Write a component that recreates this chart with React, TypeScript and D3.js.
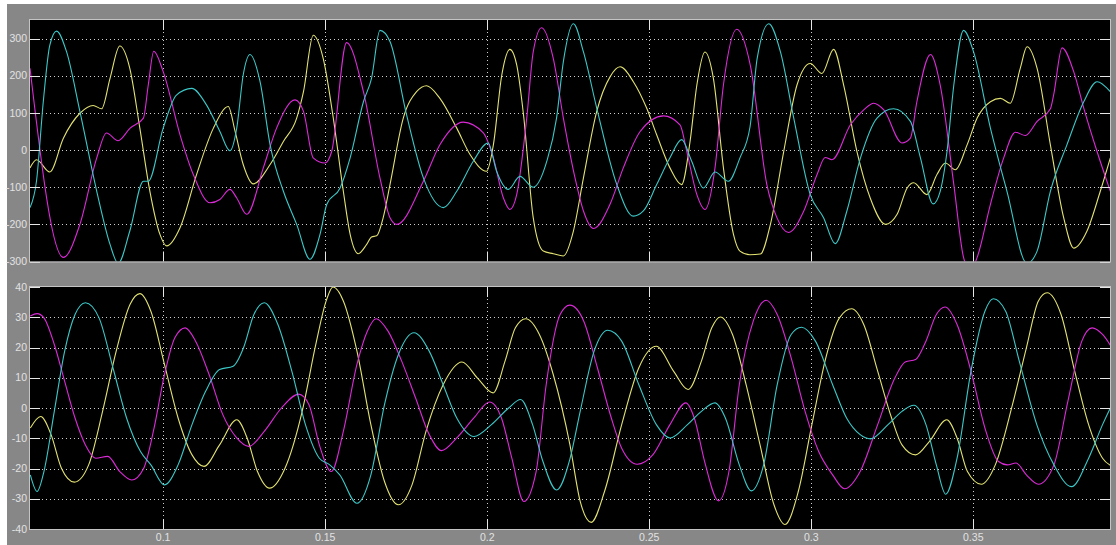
import React from "react";
import * as d3 from "d3";

type Pt = [number, number];

// ---- Top panel series (time s, value) ----
const topYellow: Pt[] = [
  [0.0589, -48], [0.0609, -26], [0.065, -59], [0.0692, 32], [0.0743, 99], [0.0784, 120], [0.081, 111],
  [0.0836, 193], [0.0866, 280], [0.0897, 220], [0.0928, 59], [0.0959, -111], [0.099, -227], [0.1011, -258],
  [0.1052, -209], [0.1103, -66], [0.1155, 59], [0.1201, 117], [0.1222, 50], [0.1247, -39], [0.1278, -91],
  [0.133, -39], [0.1371, 23], [0.1412, 86], [0.1433, 157], [0.1463, 309], [0.1494, 246], [0.1525, 86],
  [0.1556, -111], [0.1577, -227], [0.1602, -279], [0.1628, -254], [0.1643, -234], [0.1659, -231],
  [0.1679, -182], [0.17, -93], [0.1741, 86], [0.1782, 157], [0.1813, 173], [0.1854, 139], [0.1906, 59],
  [0.1947, -12], [0.1998, -57], [0.2019, 14], [0.2045, 202], [0.207, 271], [0.2091, 229], [0.2112, 95],
  [0.2142, -182], [0.2173, -272], [0.2204, -279], [0.2235, -285], [0.2266, -218], [0.2297, -75],
  [0.2338, 104], [0.2379, 197], [0.241, 224], [0.2451, 184], [0.2492, 113], [0.2523, 41], [0.2564, -48],
  [0.26, -93], [0.2626, 23], [0.2647, 175], [0.2672, 264], [0.2698, 193], [0.2729, -48], [0.276, -227],
  [0.278, -272], [0.2811, -282], [0.2843, -280], [0.2874, -200], [0.2915, -4], [0.2956, 175], [0.2997, 233],
  [0.3033, 206], [0.3069, 271], [0.31, 175], [0.3141, -4], [0.3182, -129], [0.3229, -200], [0.3265, -173],
  [0.3296, -102], [0.3316, -88], [0.3357, -120], [0.3388, -66], [0.3414, -35], [0.3445, -53], [0.3481, 14],
  [0.3512, 86], [0.3553, 130], [0.3584, 139], [0.3614, 126], [0.3645, 220], [0.3666, 278], [0.3697, 220],
  [0.3738, 14], [0.3779, -182], [0.381, -264], [0.3851, -218], [0.3892, -111], [0.3923, -21],
];

const topMagenta: Pt[] = [
  [0.0589, 220], [0.0692, -289], [0.0743, -200], [0.0795, -21], [0.0825, 46], [0.0861, 25], [0.0898, 59],
  [0.0939, 86], [0.0954, 175], [0.0971, 266], [0.1, 211], [0.1052, 41], [0.1093, -66], [0.1145, -142],
  [0.1175, -133], [0.1206, -106], [0.1227, -129], [0.1258, -173], [0.1309, -48], [0.135, 59], [0.1407, 135],
  [0.1433, 104], [0.1463, -21], [0.1499, -35], [0.152, -4], [0.1566, 289], [0.1618, 157], [0.1669, -75],
  [0.17, -182], [0.1721, -200], [0.1803, -84], [0.1854, 14], [0.1926, 75], [0.1988, 46], [0.2019, -21],
  [0.205, -129], [0.207, -160], [0.2091, -120], [0.2122, 86], [0.2142, 264], [0.2168, 329], [0.2204, 246],
  [0.2235, 86], [0.2271, -75], [0.2297, -164], [0.2328, -211], [0.2379, -146], [0.242, -48], [0.2472, 50],
  [0.2544, 92], [0.2595, 68], [0.2616, -4], [0.2647, -120], [0.2672, -160], [0.2703, -48], [0.2729, 175],
  [0.277, 325], [0.2812, 228], [0.2863, -93], [0.2894, -182], [0.293, -222], [0.2977, -164], [0.3018, -66],
  [0.3043, -20], [0.3064, -26], [0.3121, 68], [0.3162, 108], [0.3193, 126], [0.3224, 108], [0.328, 19],
  [0.3306, 32], [0.3326, 130], [0.3368, 257], [0.3398, 175], [0.344, -93], [0.347, -289], [0.3491, -325],
  [0.3512, -289], [0.3553, -146], [0.3594, -21], [0.363, 48], [0.3661, 39], [0.3697, 77], [0.3738, 111],
  [0.3748, 148], [0.3774, 275], [0.381, 211], [0.3841, 113], [0.3882, -4], [0.3923, -111],
];

const topCyan: Pt[] = [
  [0.0589, -155], [0.0609, -84], [0.063, 130], [0.065, 282], [0.0671, 320], [0.0702, 264], [0.0743, 104],
  [0.0795, -111], [0.0836, -254], [0.0861, -305], [0.0897, -218], [0.0939, -84], [0.0954, -84], [0.1, 59],
  [0.1041, 148], [0.1088, 166], [0.1134, 121], [0.1175, 50], [0.1206, -2], [0.1227, 59], [0.1247, 202],
  [0.1268, 257], [0.1299, 184], [0.133, 14], [0.1371, -111], [0.1412, -200], [0.1453, -294], [0.1484, -227],
  [0.1505, -146], [0.1546, -102], [0.1577, -21], [0.1618, 130], [0.1643, 193], [0.1669, 322], [0.17, 292],
  [0.1751, 95], [0.1803, -75], [0.1865, -155], [0.1906, -111], [0.1957, -30], [0.2003, 19], [0.2029, -57],
  [0.2065, -106], [0.2101, -71], [0.2142, -100], [0.2184, -30], [0.2214, 86], [0.2235, 238], [0.2266, 340],
  [0.2297, 264], [0.2338, 113], [0.24, -93], [0.2451, -178], [0.2482, -164], [0.2523, -93], [0.2564, -21],
  [0.26, 28], [0.2631, -30], [0.2667, -102], [0.2703, -59], [0.2744, -84], [0.278, -21], [0.2811, 62],
  [0.2833, 246], [0.2869, 340], [0.2905, 264], [0.2946, 86], [0.2997, -120], [0.3038, -182], [0.3074, -252],
  [0.311, -164], [0.3152, -21], [0.3203, 86], [0.3254, 111], [0.3306, 77], [0.3337, -21], [0.3376, -145],
  [0.3398, -111], [0.3419, -4], [0.344, 175], [0.347, 322], [0.3501, 264], [0.3553, 59], [0.3604, -111],
  [0.3666, -305], [0.3697, -272], [0.3738, -111], [0.3789, 14], [0.3841, 130], [0.3882, 184], [0.3923, 157],
];

// ---- Bottom panel series ----
const bottomYellow: Pt[] = [
  [0.059, -6.6], [0.0622, -2.8], [0.0654, -8.8], [0.0686, -19.9], [0.0726, -24.5], [0.077, -18.8],
  [0.0813, -1.1], [0.0855, 18.8], [0.0898, 34.3], [0.0928, 37.8], [0.0962, 32.0], [0.1004, 14.4],
  [0.1046, -3.3], [0.1089, -15.5], [0.1126, -19.3], [0.1174, -12.2], [0.1227, -3.9], [0.1259, -9.9],
  [0.1291, -21.0], [0.1328, -26.5], [0.1376, -19.9], [0.1429, -1.1], [0.1471, 21.0], [0.1503, 35.4],
  [0.1524, 40], [0.1556, 35.4], [0.1598, 18.8], [0.1641, -5.5], [0.1683, -24.3], [0.1726, -32.0],
  [0.1768, -25.4], [0.1811, -7.7], [0.1864, 7.7], [0.1922, 15.2], [0.197, 9.9], [0.2018, 5.0],
  [0.2055, 15.5], [0.2087, 26.5], [0.2119, 29.5], [0.2161, 24.3], [0.2204, 11.0], [0.2255, -12],
  [0.2287, -30.9], [0.2321, -37.8], [0.2362, -27.6], [0.2415, -5.5], [0.2468, 13.3], [0.2522, 20.4],
  [0.2575, 12.2], [0.262, 6.1], [0.2661, 15.5], [0.2693, 26.5], [0.2719, 30.1], [0.2757, 24.3],
  [0.2799, 7.7], [0.2842, -12.2], [0.2885, -32.0], [0.2919, -38.5], [0.296, -27.6], [0.3002, -5.5],
  [0.3045, 16.6], [0.3087, 29.8], [0.3125, 32.8], [0.3162, 27.6], [0.3205, 12.2], [0.3248, -3.3],
  [0.328, -12.2], [0.3322, -15.5], [0.3365, -11.0], [0.3418, -3.9], [0.345, -9.9], [0.3482, -21.0],
  [0.3525, -25.2], [0.3568, -18.8], [0.3621, 1.1], [0.3664, 19.9], [0.3701, 35.4], [0.3728, 38.1],
  [0.3771, 30.9], [0.3813, 12.2], [0.3856, -5.5], [0.3899, -16.6], [0.3928, -19.3],
];

const bottomMagenta: Pt[] = [
  [0.059, 30.4], [0.0611, 31.2], [0.0632, 29.8], [0.0664, 21.0], [0.0696, 8.8], [0.0728, -3.3],
  [0.076, -12.2], [0.0792, -16.6], [0.0829, -16.0], [0.0866, -21.0], [0.0903, -23.8], [0.094, -19.9],
  [0.0972, -6.6], [0.1004, 11.0], [0.1036, 23.2], [0.1068, 26.5], [0.11, 22.1], [0.1142, 11.0],
  [0.1184, -2.2], [0.1227, -9.9], [0.1264, -12.7], [0.1312, -7.7], [0.1365, 0], [0.1418, 4.6],
  [0.145, 1.1], [0.1482, -12.2], [0.1519, -21.0], [0.1556, -7.7], [0.1598, 14.4], [0.163, 25.4],
  [0.1657, 29.5], [0.1694, 25.4], [0.1736, 15.5], [0.1779, 3.3], [0.1821, -8.8], [0.1859, -14.1],
  [0.1906, -9.9], [0.1959, -3.3], [0.2007, 2.0], [0.2044, -3.3], [0.2076, -16.6], [0.2113, -30.9],
  [0.2151, -21.0], [0.2182, 7.7], [0.2225, 30.9], [0.2255, 34.0], [0.2298, 28.7], [0.234, 13.3],
  [0.2383, -3.3], [0.2415, -13.3], [0.2463, -18.6], [0.2511, -15.5], [0.2564, -5.5], [0.2613, 1.7],
  [0.2639, -3.3], [0.2671, -17.7], [0.2714, -30.7], [0.2746, -21.0], [0.2778, 7.7], [0.2821, 28.7],
  [0.2861, 35.6], [0.2895, 30.9], [0.2938, 16.6], [0.2981, -1.1], [0.3023, -14.4], [0.3066, -22.1],
  [0.3103, -26.7], [0.3151, -21.0], [0.3205, -5.5], [0.3258, 9.9], [0.329, 15.2], [0.3322, 16.0],
  [0.3354, 22.1], [0.3386, 30.9], [0.3413, 33.4], [0.345, 27.6], [0.3493, 12.2], [0.3536, -6.6],
  [0.3578, -17.7], [0.3605, -18.8], [0.3632, -18.2], [0.3664, -22.1], [0.3701, -25.2], [0.3749, -18.8],
  [0.3792, 2.2], [0.3835, 22.1], [0.3867, 26.5], [0.3899, 24.3], [0.3928, 19.9],
];

const bottomCyan: Pt[] = [
  [0.059, -22.1], [0.0611, -27.6], [0.0632, -21.0], [0.0664, -1.1], [0.0696, 18.8], [0.0728, 30.9],
  [0.076, 34.8], [0.0802, 29.8], [0.0845, 13.3], [0.0887, -3.3], [0.093, -14.4], [0.0962, -18.8],
  [0.1004, -25.4], [0.1046, -18.8], [0.1089, -5.5], [0.1131, 5.5], [0.1174, 12.7], [0.1216, 13.8],
  [0.1248, 19.9], [0.128, 30.9], [0.1312, 34.8], [0.1354, 27.6], [0.1397, 12.2], [0.1439, -5.5],
  [0.1482, -16.6], [0.1514, -18.8], [0.1545, -22.1], [0.1598, -31.5], [0.1641, -22.1], [0.1683, 1.1],
  [0.1726, 17.7], [0.1774, 24.9], [0.1821, 18.8], [0.1864, 7.7], [0.1906, -3.3], [0.1959, -9.4],
  [0.2013, -5.5], [0.2066, 0], [0.2103, 2.8], [0.214, -5.5], [0.2172, -17.7], [0.2214, -27.1],
  [0.2255, -17], [0.2287, -1.1], [0.233, 18.8], [0.2372, 25.7], [0.2415, 22.1], [0.2468, 7.7],
  [0.2522, -5.5], [0.2564, -9.9], [0.2618, -5.5], [0.2661, -1.1], [0.2703, 1.7], [0.2735, -3.3],
  [0.2778, -18.8], [0.2815, -27.4], [0.2853, -18.8], [0.2895, 7.7], [0.2938, 24.3], [0.297, 26.7],
  [0.3013, 22.1], [0.3066, 7.7], [0.3109, -3.3], [0.3151, -8.8], [0.3183, -10.2], [0.3237, -5.5],
  [0.328, -1.1], [0.3317, 0.9], [0.3354, -5.5], [0.3386, -18.8], [0.3415, -28.5], [0.345, -16.6],
  [0.3493, 12.2], [0.3536, 32.0], [0.3562, 36.1], [0.36, 32.0], [0.3642, 15.5], [0.3696, -5.5],
  [0.3749, -18.8], [0.3803, -26.0], [0.3856, -16.6], [0.3899, -5.5], [0.3928, 1.1],
];

// ---- Axes ----
const xDomain: [number, number] = [0.0589, 0.3922];
const xTicks = [0.1, 0.15, 0.2, 0.25, 0.3, 0.35];
const xTickLabels = ["0.1", "0.15", "0.2", "0.25", "0.3", "0.35"];
const topYDomain: [number, number] = [-300, 350];
const topYTicks = [300, 200, 100, 0, -100, -200, -300];
const bottomYDomain: [number, number] = [-40, 40];
const bottomYTicks = [40, 30, 20, 10, 0, -10, -20, -30, -40];

const COLORS = { yellow: "#e2e272", magenta: "#dc2ad8", cyan: "#3cc8c8" };

const W = 1116;
const H = 545;
const LEFT = 30;
const RIGHT = 1110;

type PanelProps = {
  id: string;
  top: number;
  bottom: number;
  yDomain: [number, number];
  yTicks: number[];
  series: { data: Pt[]; color: string }[];
  showXLabels: boolean;
};

function Panel({ id, top, bottom, yDomain, yTicks, series, showXLabels }: PanelProps) {
  const x = d3.scaleLinear().domain(xDomain).range([LEFT, RIGHT]);
  const y = d3.scaleLinear().domain(yDomain).range([bottom, top]);
  const line = d3
    .line<Pt>()
    .x((d) => x(d[0]))
    .y((d) => y(d[1]))
    .curve(d3.curveMonotoneX);
  const tickLen = 10;
  const gridColor = "#cfcfcf";
  return (
    <g>
      <defs>
        <clipPath id={id}>
          <rect x={LEFT} y={top} width={RIGHT - LEFT} height={bottom - top} />
        </clipPath>
      </defs>
      <rect x={LEFT} y={top} width={RIGHT - LEFT} height={bottom - top} fill="#000" />
      {yTicks
        .filter((t) => y(t) > top + 1 && y(t) < bottom - 1)
        .map((t) => (
          <line key={"gy" + t} x1={LEFT} x2={RIGHT} y1={Math.round(y(t)) + 0.5} y2={Math.round(y(t)) + 0.5}
            stroke={gridColor} strokeWidth={1} strokeDasharray="1,3" />
        ))}
      {xTicks.map((t) => (
        <line key={"gx" + t} x1={Math.round(x(t)) + 0.5} x2={Math.round(x(t)) + 0.5} y1={top} y2={bottom}
          stroke={gridColor} strokeWidth={1} strokeDasharray="1,3" />
      ))}
      <g clipPath={`url(#${id})`}>
        {series.map((s, i) => (
          <path key={i} d={line(s.data) || ""} fill="none" stroke={s.color} strokeWidth={1.1} />
        ))}
      </g>
      {yTicks.map((t) => (
        <g key={"ty" + t}>
          <line x1={LEFT} x2={LEFT + tickLen} y1={Math.round(y(t)) + 0.5} y2={Math.round(y(t)) + 0.5} stroke="#e6e6e6" />
          <line x1={RIGHT - tickLen} x2={RIGHT} y1={Math.round(y(t)) + 0.5} y2={Math.round(y(t)) + 0.5} stroke="#e6e6e6" />
        </g>
      ))}
      {xTicks.map((t) => (
        <g key={"tx" + t}>
          <line x1={Math.round(x(t)) + 0.5} x2={Math.round(x(t)) + 0.5} y1={top} y2={top + tickLen} stroke="#e6e6e6" />
          <line x1={Math.round(x(t)) + 0.5} x2={Math.round(x(t)) + 0.5} y1={bottom - tickLen} y2={bottom} stroke="#e6e6e6" />
        </g>
      ))}
      <rect x={LEFT - 0.5} y={top - 0.5} width={RIGHT - LEFT + 1} height={bottom - top + 1} fill="none" stroke="#c4c4c4" strokeWidth={1} />
      {yTicks.map((t) => (
        <text key={"ly" + t} x={LEFT - 3} y={y(t)} dy="0.35em" textAnchor="end" fontSize={10.5}
          fontFamily="'Liberation Sans', Arial, sans-serif" fill="#e2e2e2">
          {String(t)}
        </text>
      ))}
      {showXLabels &&
        xTicks.map((t, i) => (
          <text key={"lx" + t} x={x(t)} y={bottom + 12} textAnchor="middle" fontSize={10.5}
            fontFamily="'Liberation Sans', Arial, sans-serif" fill="#e2e2e2">
            {xTickLabels[i]}
          </text>
        ))}
    </g>
  );
}

export default function App() {
  return (
    <div style={{ position: "fixed", left: 0, top: 0, width: W, height: H }}>
      <svg width={W} height={H} style={{ display: "block" }}>
        <rect x={0} y={0} width={W} height={H} fill="#fff" />
        <rect x={7} y={4} width={W - 7} height={H - 4} fill="#878787" />
        <Panel
          id="clipTop"
          top={20}
          bottom={261.5}
          yDomain={topYDomain}
          yTicks={topYTicks}
          series={[
            { data: topYellow, color: COLORS.yellow },
            { data: topMagenta, color: COLORS.magenta },
            { data: topCyan, color: COLORS.cyan },
          ]}
          showXLabels={false}
        />
        <Panel
          id="clipBottom"
          top={287}
          bottom={529}
          yDomain={bottomYDomain}
          yTicks={bottomYTicks}
          series={[
            { data: bottomYellow, color: COLORS.yellow },
            { data: bottomMagenta, color: COLORS.magenta },
            { data: bottomCyan, color: COLORS.cyan },
          ]}
          showXLabels={true}
        />
      </svg>
    </div>
  );
}
